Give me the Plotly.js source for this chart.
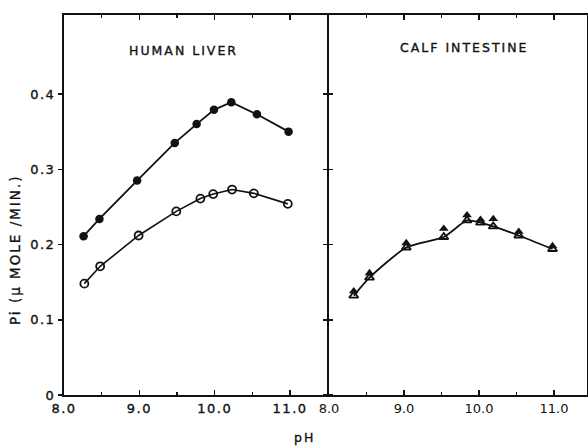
<!DOCTYPE html>
<html>
<head>
<meta charset="utf-8">
<script src="https://cdn.plot.ly/plotly-3.0.1.min.js"></script>
<style>
  html, body { margin: 0; padding: 0; background: #fff; }
  #chart { width: 588px; height: 448px; }
  #chart .xtick text, #chart .ytick text { letter-spacing: 1.5px; stroke: #111; stroke-width: 0.35px; }
  #chart .annotation-text { letter-spacing: 2px; stroke: #111; stroke-width: 0.35px; }
</style>
</head>
<body>
<div id="chart"></div>
<script>
// Human liver (left panel)
const liverFilledPH = [8.26, 8.47, 8.97, 9.47, 9.76, 9.99, 10.22, 10.56, 10.98];
const liverFilledPi = [0.211, 0.234, 0.285, 0.335, 0.360, 0.379, 0.389, 0.373, 0.350];
const liverOpenPH   = [8.27, 8.48, 8.99, 9.49, 9.81, 9.98, 10.23, 10.52, 10.97];
const liverOpenPi   = [0.148, 0.171, 0.212, 0.244, 0.261, 0.267, 0.273, 0.268, 0.254];

// Calf intestine (right panel)
const calfPH        = [8.33, 8.54, 9.03, 9.53, 9.84, 10.02, 10.19, 10.53, 10.98];
const calfFilledPi  = [0.138, 0.162, 0.202, 0.221, 0.239, 0.233, 0.234, 0.217, 0.198];
const calfOpenPi    = [0.132, 0.156, 0.196, 0.210, 0.232, 0.229, 0.224, 0.212, 0.194];

const xTickVals = [8, 9, 10, 11];
const xTickText = ['8.0', '9.0', '10.0', '11.0'];
const yTickVals = [0, 0.1, 0.2, 0.3, 0.4];
const yTickText = ['0', '0.1', '0.2', '0.3', '0.4'];

const panelTitles = ['HUMAN LIVER', 'CALF INTESTINE'];
const xTitle = 'pH';
const yTitle = 'Pi (\u03BC MOLE /MIN.)';

const FONT = 'DejaVu Sans, Liberation Sans, sans-serif';
const BLACK = '#111';

const traces = [
  { x: liverFilledPH, y: liverFilledPi, xaxis: 'x', yaxis: 'y', mode: 'lines+markers',
    line: { color: BLACK, width: 1.8 },
    marker: { symbol: 'circle', size: 8.5, color: BLACK } },
  { x: liverOpenPH, y: liverOpenPi, xaxis: 'x', yaxis: 'y', mode: 'lines+markers',
    line: { color: BLACK, width: 1.6 },
    marker: { symbol: 'circle-open', size: 8, color: BLACK, line: { width: 1.8, color: BLACK } } },
  { x: calfPH, y: calfOpenPi, xaxis: 'x2', yaxis: 'y2', mode: 'lines+markers',
    line: { color: BLACK, width: 1.8, shape: 'spline', smoothing: 0.6 },
    marker: { symbol: 'triangle-up-open', size: 8, color: BLACK, line: { width: 1.8, color: BLACK } } },
  { x: calfPH, y: calfFilledPi, xaxis: 'x2', yaxis: 'y2', mode: 'markers',
    marker: { symbol: 'triangle-up', size: 8.5, color: BLACK } }
];

const xCommon = {
  range: [8, 11.49], tickvals: xTickVals, ticktext: xTickText,
  ticks: 'inside', ticklen: 5, tickwidth: 1.5, tickcolor: BLACK,
  minor: { dtick: 0.5, tick0: 8, ticks: 'inside', ticklen: 3, tickwidth: 1.2, tickcolor: BLACK },
  showline: true, linecolor: BLACK, linewidth: 2, mirror: 'ticks',
  showgrid: false, zeroline: false, fixedrange: true,
  tickfont: { family: FONT, size: 13, color: BLACK }
};

const layout = {
  width: 588, height: 448,
  margin: { l: 0, r: 0, t: 0, b: 0 },
  paper_bgcolor: '#fff', plot_bgcolor: '#fff',
  showlegend: false,
  xaxis: Object.assign({}, xCommon, { domain: [64 / 588, 327 / 588], anchor: 'y' }),
  xaxis2: Object.assign({}, xCommon, { domain: [329 / 588, 587 / 588], anchor: 'y2', range: [8.0, 11.44] }),
  yaxis: {
    domain: [1 - 395 / 448, 1 - 15 / 448], anchor: 'x', range: [0, 0.505],
    tickvals: yTickVals, ticktext: yTickText,
    ticks: 'outside', ticklen: 4, tickwidth: 1.5, tickcolor: BLACK,
    showline: true, linecolor: BLACK, linewidth: 2, mirror: 'ticks',
    showgrid: false, zeroline: false, fixedrange: true,
    tickfont: { family: FONT, size: 13, color: BLACK }
  },
  yaxis2: {
    domain: [1 - 395 / 448, 1 - 15 / 448], anchor: 'x2', range: [0, 0.505],
    tickvals: yTickVals, showticklabels: false,
    ticks: 'outside', ticklen: 4, tickwidth: 1.5, tickcolor: BLACK,
    showline: true, linecolor: BLACK, linewidth: 2, mirror: 'ticks',
    showgrid: false, zeroline: false, fixedrange: true
  },
  annotations: [
    { text: panelTitles[0], xref: 'paper', yref: 'paper', x: 183 / 588, y: 1 - 50 / 448,
      showarrow: false, xanchor: 'center', yanchor: 'middle',
      font: { family: FONT, size: 12.5, color: BLACK } },
    { text: panelTitles[1], xref: 'paper', yref: 'paper', x: 464 / 588, y: 1 - 47 / 448,
      showarrow: false, xanchor: 'center', yanchor: 'middle',
      font: { family: FONT, size: 12.5, color: BLACK } },
    { text: xTitle, xref: 'paper', yref: 'paper', x: 304 / 588, y: 1 - 437 / 448,
      showarrow: false, xanchor: 'center', yanchor: 'middle',
      font: { family: FONT, size: 12.5, color: BLACK } },
    { text: yTitle, xref: 'paper', yref: 'paper', x: 15 / 588, y: 1 - 250 / 448,
      showarrow: false, xanchor: 'center', yanchor: 'middle', textangle: -90,
      font: { family: FONT, size: 13.5, color: BLACK } }
  ]
};

Plotly.newPlot('chart', traces, layout, { displayModeBar: false, staticPlot: true });
</script>
</body>
</html>
